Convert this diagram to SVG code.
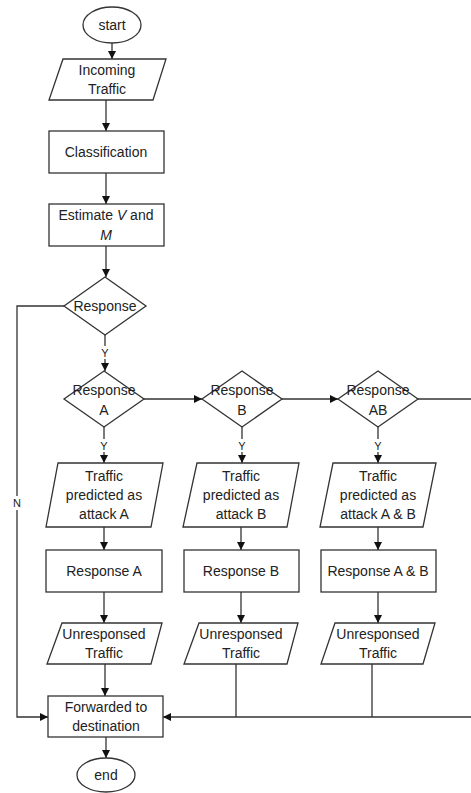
<svg xmlns="http://www.w3.org/2000/svg" width="471" height="793" viewBox="0 0 471 793">
<style>
.s{fill:#fff;stroke:#333;stroke-width:1.3}
.t{font-family:"Liberation Sans",Arial,sans-serif;font-size:14px;fill:#222;text-anchor:middle}
.l{font-family:"Liberation Sans",Arial,sans-serif;font-size:11px;fill:#222;text-anchor:middle}
.c{fill:none;stroke:#333;stroke-width:1.3}
.bg{fill:#fff}
</style>
<defs>
<marker id="a" viewBox="0 0 10 10" refX="10" refY="5" markerWidth="8" markerHeight="8" markerUnits="userSpaceOnUse" orient="auto">
<path d="M0,0 L10,5 L0,10 Z" fill="#111"/>
</marker>
</defs>
<rect width="471" height="793" fill="#fff"/>
<g id="connectors">
<line class="c" x1="112" y1="43" x2="112" y2="59" marker-end="url(#a)"/>
<line class="c" x1="106" y1="100" x2="106" y2="131" marker-end="url(#a)"/>
<line class="c" x1="106" y1="173" x2="106" y2="204" marker-end="url(#a)"/>
<line class="c" x1="106" y1="246" x2="106" y2="277" marker-end="url(#a)"/>
<line class="c" x1="105" y1="335" x2="105" y2="371" marker-end="url(#a)"/>
<polyline class="c" points="64,306 17,306 17,717 48,717" marker-end="url(#a)"/>
<line class="c" x1="144" y1="399" x2="202" y2="399" marker-end="url(#a)"/>
<line class="c" x1="282" y1="399" x2="338" y2="399" marker-end="url(#a)"/>
<line class="c" x1="418" y1="399" x2="471" y2="399"/>
<line class="c" x1="104" y1="427" x2="104" y2="463" marker-end="url(#a)"/>
<line class="c" x1="242" y1="427" x2="242" y2="463" marker-end="url(#a)"/>
<line class="c" x1="378" y1="427" x2="378" y2="463" marker-end="url(#a)"/>
<line class="c" x1="104" y1="527" x2="104" y2="550" marker-end="url(#a)"/>
<line class="c" x1="241" y1="527" x2="241" y2="550" marker-end="url(#a)"/>
<line class="c" x1="378" y1="527" x2="378" y2="550" marker-end="url(#a)"/>
<line class="c" x1="104" y1="592" x2="104" y2="623" marker-end="url(#a)"/>
<line class="c" x1="241" y1="592" x2="241" y2="623" marker-end="url(#a)"/>
<line class="c" x1="378" y1="592" x2="378" y2="623" marker-end="url(#a)"/>
<line class="c" x1="105" y1="664" x2="105" y2="696" marker-end="url(#a)"/>
<polyline class="c" points="236,664 236,717"/>
<polyline class="c" points="372,664 372,717"/>
<line class="c" x1="471" y1="717" x2="163" y2="717" marker-end="url(#a)"/>
<line class="c" x1="106" y1="737" x2="106" y2="758" marker-end="url(#a)"/>
<rect class="bg" x="99" y="346" width="12" height="13"/>
<text class="l" x="105" y="357">Y</text>
<rect class="bg" x="98" y="439" width="12" height="13"/>
<text class="l" x="104" y="450">Y</text>
<rect class="bg" x="236" y="439" width="12" height="13"/>
<text class="l" x="242" y="450">Y</text>
<rect class="bg" x="372" y="439" width="12" height="13"/>
<text class="l" x="378" y="450">Y</text>
<rect class="bg" x="11" y="496" width="12" height="14"/>
<text class="l" x="17" y="507">N</text>
</g>
<g id="start"><ellipse class="s" cx="112" cy="25" rx="29" ry="18"/><text class="t" x="112" y="30">start</text></g>
<g id="incoming"><polygon class="s" points="63,59 166,59 153,100 49,100"/><text class="t" x="107" y="75">Incoming</text><text class="t" x="107" y="94">Traffic</text></g>
<g id="classification"><rect class="s" x="49" y="131" width="115" height="42"/><text class="t" x="106" y="157">Classification</text></g>
<g id="estimate"><rect class="s" x="49" y="204" width="115" height="42"/><text class="t" x="106" y="220">Estimate <tspan font-style="italic">V</tspan> and</text><text class="t" x="106" y="240" font-style="italic">M</text></g>
<g id="response"><polygon class="s" points="105,277 146,306 105,335 64,306"/><text class="t" x="105" y="311">Response</text></g>
<g id="responseA"><polygon class="s" points="104,371 144,399 104,427 64,399"/><text class="t" x="104" y="395">Response</text><text class="t" x="104" y="415">A</text></g>
<g id="responseB"><polygon class="s" points="242,371 282,399 242,427 202,399"/><text class="t" x="242" y="395">Response</text><text class="t" x="242" y="415">B</text></g>
<g id="responseAB"><polygon class="s" points="378,371 418,399 378,427 338,399"/><text class="t" x="378" y="395">Response</text><text class="t" x="378" y="415">AB</text></g>
<g id="predA"><polygon class="s" points="58,463 163,463 151,527 46,527"/><text class="t" x="104" y="481">Traffic</text><text class="t" x="104" y="500">predicted as</text><text class="t" x="104" y="519">attack A</text></g>
<g id="predB"><polygon class="s" points="197,463 299,463 287,527 183,527"/><text class="t" x="241" y="481">Traffic</text><text class="t" x="241" y="500">predicted as</text><text class="t" x="241" y="519">attack B</text></g>
<g id="predAB"><polygon class="s" points="333,463 436,463 423,527 320,527"/><text class="t" x="378" y="481">Traffic</text><text class="t" x="378" y="500">predicted as</text><text class="t" x="378" y="519">attack A &amp; B</text></g>
<g id="respA"><rect class="s" x="46" y="550" width="116" height="42"/><text class="t" x="104" y="576">Response A</text></g>
<g id="respB"><rect class="s" x="184" y="550" width="115" height="42"/><text class="t" x="241" y="576">Response B</text></g>
<g id="respAB"><rect class="s" x="321" y="550" width="115" height="42"/><text class="t" x="378" y="576">Response A &amp; B</text></g>
<g id="unA"><polygon class="s" points="62,623 162,623 151,664 47,664"/><text class="t" x="104" y="639">Unresponsed</text><text class="t" x="104" y="658">Traffic</text></g>
<g id="unB"><polygon class="s" points="199,623 298,623 287,664 184,664"/><text class="t" x="241" y="639">Unresponsed</text><text class="t" x="241" y="658">Traffic</text></g>
<g id="unAB"><polygon class="s" points="335,623 435,623 423,664 321,664"/><text class="t" x="378" y="639">Unresponsed</text><text class="t" x="378" y="658">Traffic</text></g>
<g id="forwarded"><rect class="s" x="48" y="696" width="115" height="41"/><text class="t" x="106" y="712">Forwarded to</text><text class="t" x="106" y="731">destination</text></g>
<g id="end"><ellipse class="s" cx="106" cy="775" rx="29" ry="17"/><text class="t" x="106" y="780">end</text></g>
</svg>
